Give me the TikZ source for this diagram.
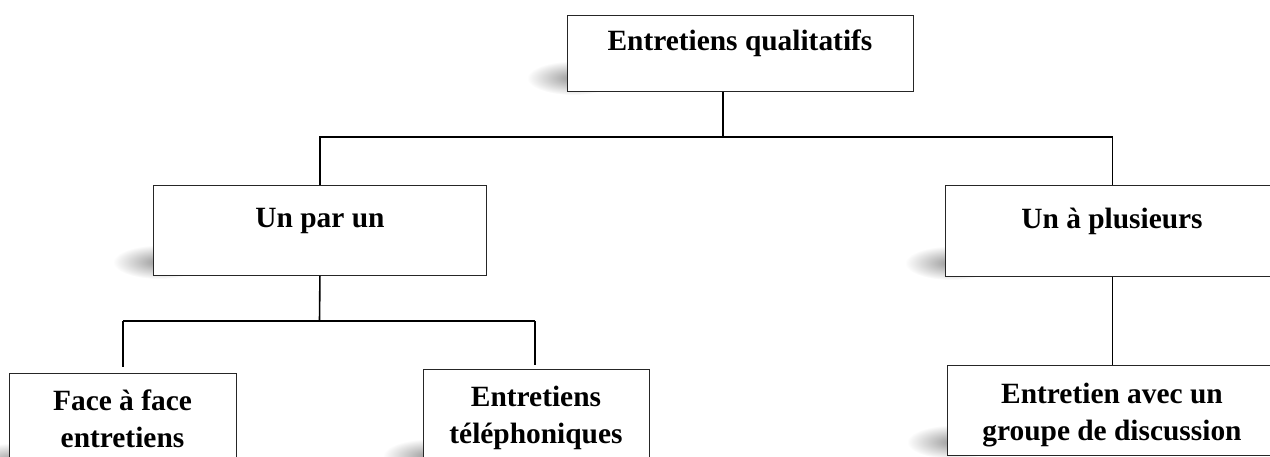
\documentclass[tikz,border=0pt]{standalone}
\usepackage{fontspec}
\setmainfont{Liberation Serif}
\usetikzlibrary{fadings,calc}
\tikzfading[name=softblob, inner color=transparent!0, outer color=transparent!100]
\begin{document}
\begin{tikzpicture}[x=1pt,y=-1pt,
  box/.style={draw=black!85, line width=0.9pt, fill=white, inner sep=0pt, anchor=north west},
  lbl/.style={font=\fontsize{29.4}{36.8}\selectfont\bfseries, anchor=base, inner sep=0pt, align=center},
  conn/.style={line width=1.6pt, black},
  shadowblob/.style={fill=black!40, path fading=softblob}]
\useasboundingbox (0,0) rectangle (1270,456);
\clip (0,0) rectangle (1270,456);
% shadows
\foreach \x/\y in {567/91, 153/275, 945/276, 9/473, 423/469, 947/455}{
  \fill[shadowblob] (\x+6,\y-13) ellipse [x radius=46, y radius=17];
}
% boxes
\node[box, minimum width=346pt, minimum height=76pt] (top) at (567,15) {};
\node[box, minimum width=333pt, minimum height=90pt] (one) at (153,185) {};
\node[box, minimum width=334pt, minimum height=91pt] (many) at (945,185) {};
\node[box, minimum width=227pt, minimum height=100pt] (face) at (9,373) {};
\node[box, minimum width=226pt, minimum height=100pt] (tel) at (423,369) {};
\node[box, minimum width=330pt, minimum height=90pt] (group) at (947,365) {};
% labels
\node[lbl] (ttop) at (740,50) {Entretiens qualitatifs};
\node[lbl] (tone) at (320,227) {Un par un};
\node[lbl] (tmany) at (1112,228) {Un à plusieurs};
\node[lbl] (tface) at (122.5,447) {Face à face\\entretiens};
\node[lbl] (ttel) at (536,443) {Entretiens\\téléphoniques};
\node[lbl] (tgroup) at (1112,440) {Entretien avec un\\groupe de discussion};
% connectors
\coordinate (j1) at (723,137);
\coordinate (j2) at (319.5,321);
\coordinate (j2l) at (123,321);
\coordinate (j2r) at (535,321);
\draw[conn] (top.south -| j1) -- (j1);
\draw[conn] (one.north) -- (one.north |- j1) -- (many.north |- j1) -- (many.north);
\draw[conn] (one.south) -- (j2);
\draw[conn] (j2l) -- (j2r);
\draw[conn] (j2l) -- ($(j2l |- face.north)+(0,-6)$);
\draw[conn] (j2r) -- ($(j2r |- tel.north)+(0,-4)$);
\draw[conn] (many.south) -- (group.north);
\end{tikzpicture}
\end{document}
